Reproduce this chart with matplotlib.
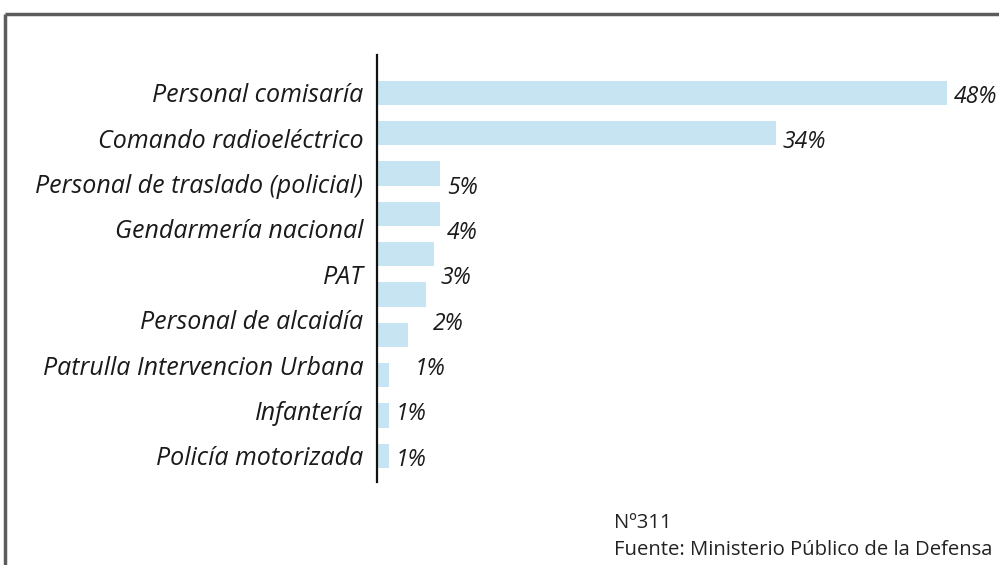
import numpy as np
import matplotlib
matplotlib.use("Agg")
import matplotlib.pyplot as plt
from matplotlib.lines import Line2D

# categorias (9 etiquetas) y barras (10 barras, tal como aparecen en el original)
categorias = ['Personal comisaría', 'Comando radioeléctrico', 'Personal de traslado (policial)',
              'Gendarmería nacional', 'PAT', 'Personal de alcaidía',
              'Patrulla Intervencion Urbana', 'Infantería', 'Policía motorizada']
etiquetas_pct = ['48%', '34%', '5%', '4%', '3%', '2%', '1%', '1%', '1%']
barras = [48, 33.6, 5.3, 5.3, 4.8, 4.1, 2.6, 1.0, 1.0, 1.0]

plt.rcParams['font.family'] = ['Open Sans', 'DejaVu Sans']

fig = plt.figure(figsize=(9.99, 5.65), dpi=100)
ax = fig.add_axes([0.3774, 0.1469, 0.6226, 0.7558])

y_barras = np.arange(len(barras))
ax.barh(y_barras, barras, height=0.6, color='#c6e4f1', left=0)

# las etiquetas se reparten en el mismo rango que las barras
y_etq = np.linspace(0, len(barras) - 1, len(categorias))
ax.set_yticks(y_etq)
ax.set_yticklabels(categorias, fontsize=18, fontstyle='italic', color='#1a1a1a')
ax.tick_params(axis='y', length=0, pad=10)
ax.set_xticks([])

for i, txt in enumerate(etiquetas_pct):
    ax.annotate(txt, (barras[i], y_etq[i] + 0.1), xytext=(5, 0), textcoords='offset points',
                va='center', ha='left', fontsize=16.5, fontstyle='italic', color='#1a1a1a',
                annotation_clip=False)

ax.set_xlim(0, 52.4)
ax.set_ylim(9.65, -0.94)
for s in ['top', 'right', 'bottom']:
    ax.spines[s].set_visible(False)
ax.spines['left'].set_linewidth(1.6)
ax.spines['left'].set_color('#111111')

# marco gris
fig.add_artist(Line2D([4.5 / 999, 1], [1 - 14 / 565, 1 - 14 / 565], color='#5c5c5c', lw=2.5,
                      transform=fig.transFigure, solid_capstyle='butt'))
fig.add_artist(Line2D([4.5 / 999, 4.5 / 999], [0, 1 - 14 / 565], color='#5c5c5c', lw=2.5,
                      transform=fig.transFigure, solid_capstyle='butt'))

fig.text(614 / 999, 1 - 523 / 565, 'Nº311', fontsize=14.6, va='center', ha='left', color='#222222')
fig.text(614 / 999, 1 - 550 / 565, 'Fuente: Ministerio Público de la Defensa', fontsize=14.6,
         va='center', ha='left', color='#222222')

fig.savefig('out.png', dpi=100)
